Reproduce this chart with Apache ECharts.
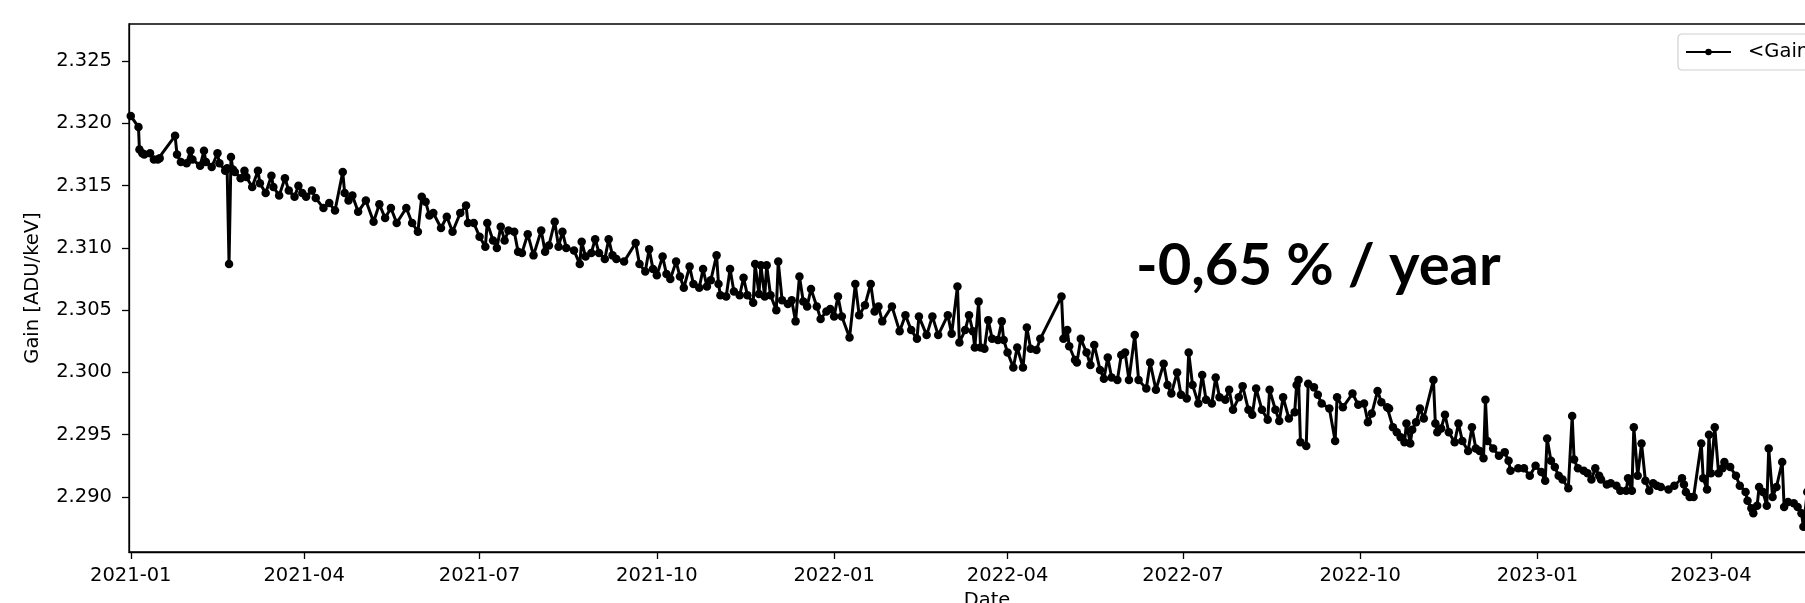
<!DOCTYPE html>
<html>
<head>
<meta charset="utf-8">
<script src="https://cdn.jsdelivr.net/npm/echarts@6/dist/echarts.min.js"></script>
<style>
  html, body { margin: 0; padding: 0; background: #fff; }
  #chart { width: 1805px; height: 603px; }
</style>
</head>
<body>
<div id="chart"></div>
<script>
// ---- data ----
const dates = [
'2021-01-01','2021-01-05','2021-01-05 12:00','2021-01-07','2021-01-08','2021-01-11','2021-01-13','2021-01-15','2021-01-16',
'2021-01-24','2021-01-25','2021-01-27','2021-01-30','2021-02-01','2021-02-02','2021-02-06','2021-02-08','2021-02-09',
'2021-02-12','2021-02-15','2021-02-16','2021-02-19','2021-02-20','2021-02-21','2021-02-22','2021-02-23','2021-02-24',
'2021-02-27','2021-03-01','2021-03-02','2021-03-05','2021-03-08','2021-03-09','2021-03-12','2021-03-15','2021-03-16',
'2021-03-19','2021-03-22','2021-03-24','2021-03-27','2021-03-29','2021-03-31','2021-04-02','2021-04-05','2021-04-07',
'2021-04-11','2021-04-14','2021-04-17','2021-04-21','2021-04-22','2021-04-24','2021-04-26','2021-04-29','2021-05-03',
'2021-05-07','2021-05-10','2021-05-13','2021-05-16','2021-05-19','2021-05-24','2021-05-27','2021-05-30','2021-06-01',
'2021-06-03','2021-06-05','2021-06-07','2021-06-11','2021-06-14','2021-06-17','2021-06-21','2021-06-24','2021-06-25',
'2021-06-28','2021-07-01','2021-07-04','2021-07-05','2021-07-08','2021-07-10','2021-07-12','2021-07-14','2021-07-16',
'2021-07-19','2021-07-21','2021-07-23','2021-07-26','2021-07-29','2021-08-02','2021-08-04','2021-08-06','2021-08-09',
'2021-08-11','2021-08-13','2021-08-15','2021-08-19','2021-08-22','2021-08-23','2021-08-25','2021-08-28','2021-08-30',
'2021-09-01','2021-09-04','2021-09-06','2021-09-08','2021-09-10','2021-09-14','2021-09-20','2021-09-22','2021-09-25',
'2021-09-27','2021-09-29','2021-10-01','2021-10-04','2021-10-06','2021-10-08','2021-10-11','2021-10-13','2021-10-15',
'2021-10-18','2021-10-20','2021-10-23','2021-10-25','2021-10-27','2021-10-29','2021-11-01','2021-11-02','2021-11-03',
'2021-11-06','2021-11-08','2021-11-10','2021-11-13','2021-11-15','2021-11-17','2021-11-20','2021-11-21','2021-11-23',
'2021-11-24','2021-11-26','2021-11-27','2021-11-29','2021-12-02','2021-12-03','2021-12-05','2021-12-08','2021-12-10',
'2021-12-12','2021-12-14','2021-12-16','2021-12-18','2021-12-20','2021-12-23','2021-12-25','2021-12-28','2021-12-30',
'2022-01-01','2022-01-03','2022-01-05','2022-01-09','2022-01-12','2022-01-14','2022-01-17','2022-01-20','2022-01-22',
'2022-01-24','2022-01-26','2022-01-31','2022-02-04','2022-02-07','2022-02-10','2022-02-13','2022-02-14','2022-02-18',
'2022-02-21','2022-02-24','2022-03-01','2022-03-03','2022-03-06','2022-03-07','2022-03-10','2022-03-12','2022-03-14',
'2022-03-15','2022-03-17','2022-03-18','2022-03-20','2022-03-22','2022-03-24','2022-03-27','2022-03-29','2022-03-30',
'2022-04-01','2022-04-04','2022-04-06','2022-04-09','2022-04-11','2022-04-13','2022-04-16','2022-04-18','2022-04-29',
'2022-04-30','2022-05-02','2022-05-03','2022-05-06','2022-05-07','2022-05-09','2022-05-12','2022-05-14','2022-05-16',
'2022-05-19','2022-05-21','2022-05-23','2022-05-25','2022-05-28','2022-05-30','2022-06-01','2022-06-03','2022-06-06',
'2022-06-08','2022-06-12','2022-06-14','2022-06-17','2022-06-21','2022-06-23','2022-06-25','2022-06-28','2022-06-30',
'2022-07-03','2022-07-04','2022-07-06','2022-07-09','2022-07-11','2022-07-13','2022-07-16','2022-07-18','2022-07-20',
'2022-07-23','2022-07-25','2022-07-27','2022-07-30','2022-08-01','2022-08-04','2022-08-06','2022-08-08','2022-08-11',
'2022-08-14','2022-08-15','2022-08-18','2022-08-20','2022-08-22','2022-08-25','2022-08-28','2022-08-29','2022-08-30',
'2022-08-31','2022-09-03','2022-09-04','2022-09-07','2022-09-09','2022-09-11','2022-09-15','2022-09-18','2022-09-19',
'2022-09-22','2022-09-27','2022-09-30','2022-10-03','2022-10-05','2022-10-07','2022-10-10','2022-10-12','2022-10-15',
'2022-10-16','2022-10-18','2022-10-20','2022-10-22','2022-10-24','2022-10-25','2022-10-27','2022-10-28','2022-10-30',
'2022-11-01','2022-11-03','2022-11-08','2022-11-09','2022-11-10','2022-11-12','2022-11-14','2022-11-16','2022-11-19',
'2022-11-21','2022-11-23','2022-11-26','2022-11-28','2022-11-30','2022-12-02','2022-12-04','2022-12-05','2022-12-06',
'2022-12-09','2022-12-12','2022-12-15','2022-12-17','2022-12-18','2022-12-22','2022-12-25','2022-12-28','2022-12-31',
'2023-01-03','2023-01-05','2023-01-06','2023-01-08','2023-01-10','2023-01-12','2023-01-14','2023-01-17','2023-01-19',
'2023-01-20','2023-01-22','2023-01-25','2023-01-27','2023-01-29','2023-01-31','2023-02-02','2023-02-03','2023-02-06',
'2023-02-08','2023-02-11','2023-02-13','2023-02-16','2023-02-17','2023-02-19','2023-02-20','2023-02-22','2023-02-24',
'2023-02-26','2023-02-28','2023-03-02','2023-03-04','2023-03-06','2023-03-10','2023-03-13','2023-03-17','2023-03-18',
'2023-03-19','2023-03-21','2023-03-23','2023-03-27','2023-03-28','2023-03-30','2023-03-31','2023-04-01','2023-04-03',
'2023-04-05','2023-04-07','2023-04-08','2023-04-11','2023-04-14','2023-04-16','2023-04-19','2023-04-20','2023-04-22',
'2023-04-23','2023-04-25','2023-04-26','2023-04-28','2023-04-30','2023-05-01','2023-05-03','2023-05-05','2023-05-08',
'2023-05-09','2023-05-11','2023-05-14','2023-05-16','2023-05-18','2023-05-19','2023-05-21'
];
const gains = [
2.3206,2.3197,2.3179,2.3176,2.3175,2.3176,2.3171,2.3171,2.3172,
2.3190,2.3175,2.3169,2.3168,2.3178,2.3171,2.3166,2.3178,2.3169,
2.3165,2.3176,2.3168,2.3162,2.3164,2.3087,2.3173,2.3163,2.3161,
2.3156,2.3162,2.3157,2.3149,2.3162,2.3152,2.3144,2.3158,2.3149,
2.3142,2.3156,2.3146,2.3141,2.3150,2.3144,2.3141,2.3146,2.3140,
2.3132,2.3136,2.3130,2.3161,2.3144,2.3138,2.3142,2.3129,2.3138,
2.3121,2.3135,2.3124,2.3132,2.3120,2.3132,2.3120,2.3113,2.3141,
2.3137,2.3126,2.3128,2.3116,2.3125,2.3113,2.3128,2.3134,2.3120,
2.3120,2.3109,2.3101,2.3120,2.3106,2.3100,2.3117,2.3106,2.3114,
2.3113,2.3097,2.3096,2.3111,2.3094,2.3114,2.3097,2.3102,2.3121,
2.3101,2.3113,2.3100,2.3098,2.3087,2.3105,2.3093,2.3096,2.3107,
2.3096,2.3091,2.3107,2.3094,2.3091,2.3089,2.3104,2.3087,2.3081,
2.3099,2.3083,2.3078,2.3093,2.3079,2.3075,2.3089,2.3077,2.3068,
2.3085,2.3071,2.3068,2.3083,2.3069,2.3074,2.3094,2.3071,2.3062,
2.3061,2.3083,2.3065,2.3062,2.3076,2.3062,2.3056,2.3087,2.3063,
2.3086,2.3061,2.3086,2.3062,2.3050,2.3089,2.3058,2.3055,2.3058,
2.3041,2.3077,2.3057,2.3053,2.3067,2.3053,2.3043,2.3049,2.3051,
2.3045,2.3061,2.3045,2.3028,2.3071,2.3046,2.3054,2.3071,2.3049,
2.3053,2.3041,2.3053,2.3033,2.3046,2.3034,2.3027,2.3045,2.3030,
2.3045,2.3030,2.3046,2.3031,2.3069,2.3024,2.3034,2.3046,2.3033,
2.3020,2.3057,2.3020,2.3019,2.3042,2.3027,2.3026,2.3041,2.3026,
2.3016,2.3004,2.3020,2.3004,2.3036,2.3019,2.3018,2.3027,2.3061,
2.3027,2.3034,2.3021,2.3010,2.3008,2.3027,2.3016,2.3006,2.3022,
2.3002,2.2995,2.3012,2.2996,2.2994,2.3014,2.3016,2.2994,2.3030,
2.2994,2.2987,2.3008,2.2986,2.3007,2.2990,2.2983,2.3000,2.2982,
2.2979,2.3016,2.2990,2.2975,2.2998,2.2978,2.2975,2.2996,2.2980,
2.2978,2.2986,2.2970,2.2980,2.2989,2.2970,2.2966,2.2987,2.2970,
2.2962,2.2986,2.2970,2.2961,2.2980,2.2963,2.2968,2.2990,2.2994,
2.2944,2.2941,2.2991,2.2988,2.2982,2.2975,2.2971,2.2945,2.2980,
2.2972,2.2983,2.2974,2.2975,2.2960,2.2967,2.2985,2.2976,2.2972,
2.2971,2.2956,2.2952,2.2948,2.2944,2.2959,2.2943,2.2954,2.2960,
2.2971,2.2963,2.2994,2.2959,2.2952,2.2955,2.2966,2.2952,2.2944,
2.2959,2.2945,2.2937,2.2956,2.2939,2.2937,2.2931,2.2978,2.2945,
2.2939,2.2933,2.2936,2.2929,2.2921,2.2923,2.2923,2.2917,2.2925,
2.2920,2.2913,2.2947,2.2929,2.2924,2.2917,2.2914,2.2907,2.2965,
2.2930,2.2923,2.2921,2.2919,2.2914,2.2923,2.2917,2.2914,2.2910,
2.2911,2.2909,2.2905,2.2905,2.2915,2.2905,2.2956,2.2917,2.2943,
2.2913,2.2905,2.2911,2.2909,2.2908,2.2906,2.2909,2.2915,2.2910,
2.2904,2.2900,2.2900,2.2943,2.2915,2.2906,2.2950,2.2919,2.2956,
2.2919,2.2923,2.2928,2.2924,2.2917,2.2909,2.2904,2.2897,2.2891,
2.2887,2.2893,2.2908,2.2904,2.2893,2.2939,2.2900,2.2908,2.2928,
2.2892,2.2896,2.2895,2.2892,2.2887,2.2876,2.2904
];
const seriesName = '<Gain>';
const yTicks = [2.290, 2.295, 2.300, 2.305, 2.310, 2.315, 2.320, 2.325];
const xTicks = ['2021-01-01','2021-04-01','2021-07-01','2021-10-01','2022-01-01','2022-04-01','2022-07-01','2022-10-01','2023-01-01','2023-04-01'];
const annotation = '-0,65 % / year';
const yMin = 2.28558, yMax = 2.32798;
const xMin = '2020-12-31 02:00', xMax = '2023-06-09 14:00';

// ---- chart ----
const toTime = s => +echarts.time.parse(s);
const chart = echarts.init(document.getElementById('chart'), null, { renderer: 'canvas' });
const points = dates.map((d, i) => [toTime(d), gains[i]]);
const xTickTimes = xTicks.map(toTime);
const ink = '#000';
const font = 'DejaVu Sans';

chart.setOption({
  animation: false,
  backgroundColor: '#fff',
  grid: {
    left: 129, top: 24, width: 1716, height: 528,
    containLabel: false, outerBoundsMode: 'none',
    show: true, borderColor: ink, borderWidth: 1.3, backgroundColor: 'transparent'
  },
  legend: {
    left: 1678, top: 34,
    padding: [8, 10, 8, 7],
    borderColor: '#d0d0d0', borderWidth: 1.2, borderRadius: 4,
    backgroundColor: '#fff',
    itemWidth: 45, itemHeight: 8,
    textStyle: { fontFamily: font, fontSize: 19.5, color: ink, padding: [0, 0, 0, 12] },
    data: [seriesName]
  },
  xAxis: {
    type: 'value',
    min: toTime(xMin), max: toTime(xMax),
    name: 'Date', nameLocation: 'middle', nameGap: 38,
    nameTextStyle: { fontFamily: font, fontSize: 19.5, color: ink, verticalAlign: 'top' },
    axisLine: { show: true, lineStyle: { color: ink, width: 1.3 } },
    axisTick: { show: true, length: 7, lineStyle: { color: ink, width: 1.3 }, customValues: xTickTimes },
    axisLabel: {
      fontFamily: font, fontSize: 19.5, color: ink, margin: 14,
      customValues: xTickTimes,
      formatter: v => echarts.time.format(v, '{yyyy}-{MM}', false)
    },
    splitLine: { show: false }
  },
  yAxis: {
    type: 'value',
    min: yMin, max: yMax,
    name: 'Gain [ADU/keV]', nameLocation: 'middle', nameGap: 86,
    nameTextStyle: { fontFamily: font, fontSize: 19.5, color: ink },
    axisLine: { show: true, lineStyle: { color: ink, width: 1.3 } },
    axisTick: { show: true, length: 7, lineStyle: { color: ink, width: 1.3 }, customValues: yTicks },
    axisLabel: {
      fontFamily: font, fontSize: 19.5, color: ink, margin: 17,
      customValues: yTicks,
      formatter: v => Number(v).toFixed(3)
    },
    splitLine: { show: false }
  },
  graphic: [{
    type: 'text', left: 1136, top: 237, z: 100,
    style: { text: annotation, fontFamily: 'Lato', fontWeight: 'bold', fontSize: 58, fill: ink }
  }],
  series: [{
    name: seriesName,
    type: 'line',
    data: points,
    symbol: 'circle',
    symbolSize: 8.5,
    showSymbol: true,
    color: ink,
    lineStyle: { color: ink, width: 3 },
    itemStyle: { color: ink },
    clip: true
  }]
});
</script>
</body>
</html>
